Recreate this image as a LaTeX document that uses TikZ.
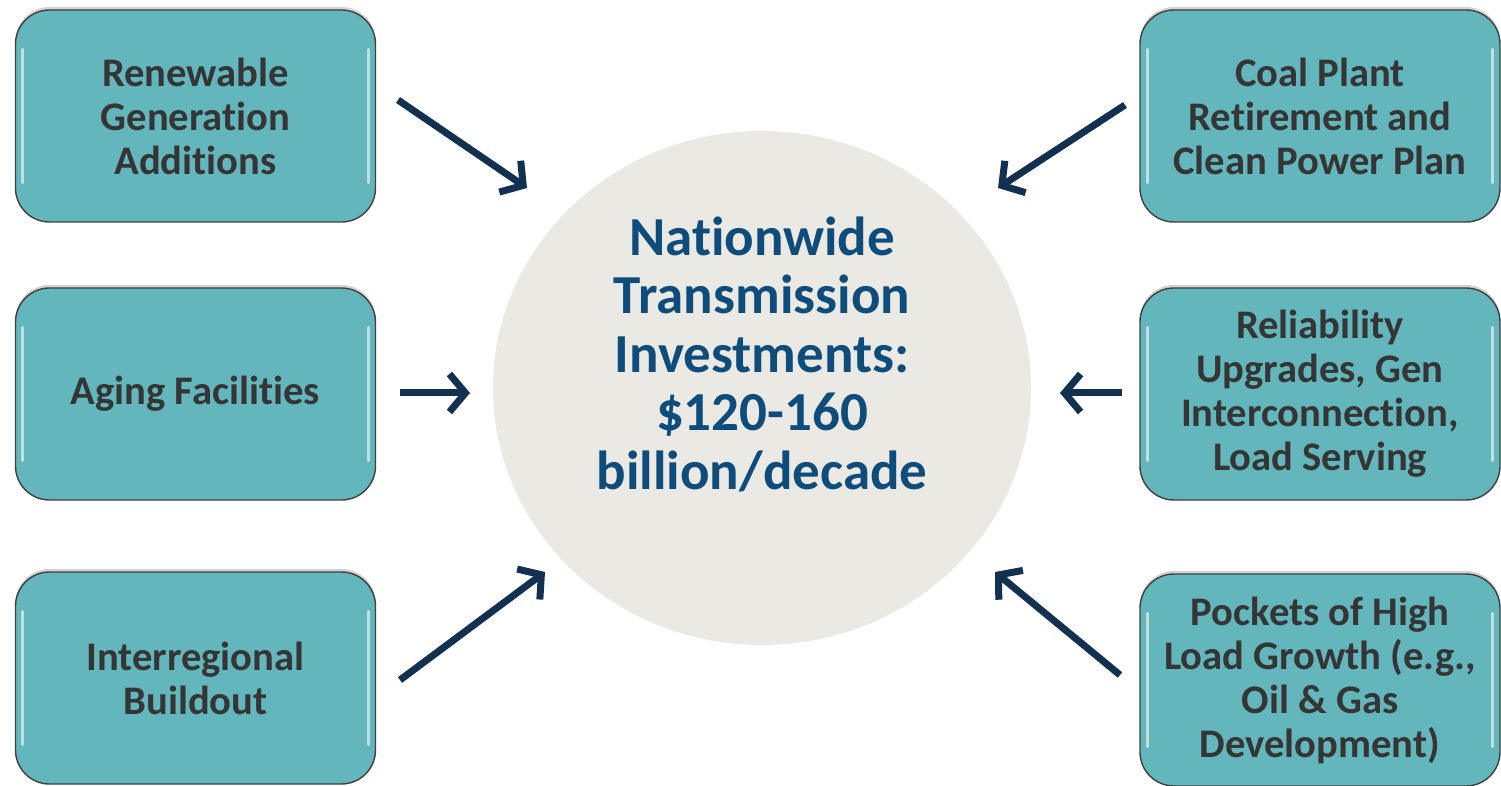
\documentclass[tikz,border=0pt]{standalone}
\usepackage{fontspec}
\setmainfont{Carlito}[Ligatures=NoCommon]
\usepackage{tikz}
\usetikzlibrary{arrows.meta,shapes.geometric,shadows}

\definecolor{tealbox}{HTML}{62B6BC}
\definecolor{navy}{HTML}{12304F}
\definecolor{hubfill}{HTML}{EBE9E4}
\definecolor{hubtext}{HTML}{0E4C7C}
\definecolor{boxtext}{HTML}{353535}

\tikzset{
  driver/.style={draw=black!75, line width=0.7pt, fill=tealbox, rounded corners=17pt,
    minimum width=180pt, minimum height=106pt, align=center, text=boxtext,
    font=\bfseries\fontsize{20.3}{22}\selectfont,
    drop shadow={shadow xshift=0pt, shadow yshift=1.5pt, opacity=0.35}},
  push/.style={navy, line width=3.5pt, -{Straight Barb[length=8pt,width=19pt]}}
}

\begin{document}
\begin{tikzpicture}[x=0.5pt,y=-0.5pt]
    \useasboundingbox (0,0) rectangle (1501,786);

    % Central circle
    \node[ellipse, fill=hubfill, minimum width=269pt, minimum height=257pt] (hub) at (762,388) {};
    \node[align=center, text=hubtext, font=\bfseries\fontsize{27.5}{29.25}\selectfont]
          (hubtext) at (762,354) {Nationwide\\Transmission\\Investments:\\\$120-160\\billion/decade};

    % Left column
    \node[driver] (rnw) at (195.5,116) {Renewable\\Generation\\Additions};
    \node[driver] (aging) at (195.5,394) {Aging Facilities};
    \node[driver] (inter) at (195.5,678) {Interregional\\Buildout};

    % Right column
    \node[driver] (coal) at (1320,116) {Coal Plant\\Retirement and\\Clean Power Plan};
    \node[driver] (rel) at (1320,394) {Reliability\\Upgrades, Gen\\Interconnection,\\Load Serving};
    \node[driver] (pockets) at (1320,680) {Pockets of High\\Load Growth (e.g.,\\Oil \& Gas\\Development)};

    % Glossy edges
    \foreach \b in {rnw,aging,inter,coal,rel,pockets} {
        \draw[white, opacity=0.6, line width=1.5pt, line cap=round]
            ([xshift=4pt,yshift=-20pt]\b.north west) -- ([xshift=4pt,yshift=20pt]\b.south west);
        \draw[white, opacity=0.6, line width=1.5pt, line cap=round]
            ([xshift=-4pt,yshift=-20pt]\b.north east) -- ([xshift=-4pt,yshift=20pt]\b.south east);
    }

    % Arrow ends
    \coordinate (rnwT) at (398,100);   \coordinate (rnwH) at (527,188);
    \coordinate (agingT) at (400,393); \coordinate (agingH) at (470,393);
    \coordinate (interT) at (400,680); \coordinate (interH) at (545,572);
    \coordinate (coalT) at (1125,105); \coordinate (coalH) at (998,188);
    \coordinate (relT) at (1122,393);  \coordinate (relH) at (1060,393);
    \coordinate (pocketsT) at (1120,675); \coordinate (pocketsH) at (995,572);

    % Arrows into the circle
    \foreach \b in {rnw,aging,inter,coal,rel,pockets}
        \draw[push] (\b T) -- (\b H);

\end{tikzpicture}
\end{document}
